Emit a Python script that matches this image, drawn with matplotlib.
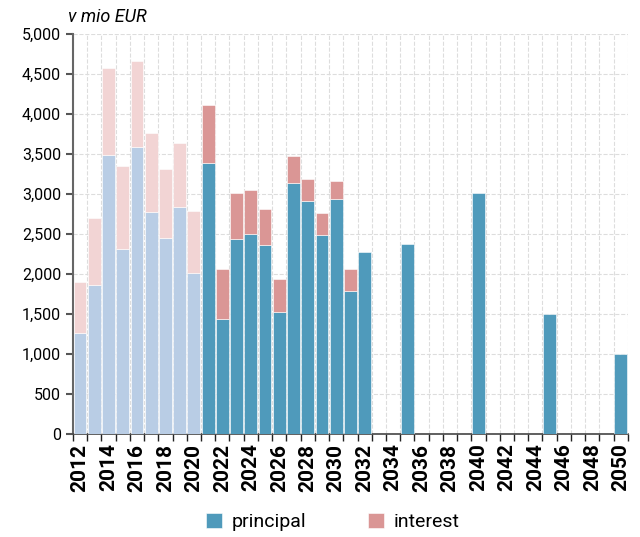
import matplotlib.pyplot as plt
import numpy as np

years = list(range(2012, 2051))
principal_past = {2012: 1260, 2013: 1860, 2014: 3490, 2015: 2310, 2016: 3590,
                  2017: 2775, 2018: 2450, 2019: 2835, 2020: 2010}
interest_past = {2012: 640, 2013: 840, 2014: 1085, 2015: 1040, 2016: 1075,
                 2017: 985, 2018: 860, 2019: 800, 2020: 775}
principal = {2021: 3385, 2022: 1435, 2023: 2435, 2024: 2500, 2025: 2355,
             2026: 1525, 2027: 3130, 2028: 2905, 2029: 2480, 2030: 2930,
             2031: 1780, 2032: 2270, 2035: 2370, 2040: 3010, 2045: 1500,
             2050: 1000}
interest = {2021: 720, 2022: 620, 2023: 575, 2024: 550, 2025: 450,
            2026: 410, 2027: 340, 2028: 285, 2029: 275, 2030: 235,
            2031: 280}

plt.rcParams['font.family'] = ['Roboto', 'DejaVu Sans']

fig = plt.figure(figsize=(6.4, 5.37), dpi=100)
ax = fig.add_axes([0.114, 0.192, 0.867, 0.745])

pos = {y: i for i, y in enumerate(years)}


def draw(vals, bottoms, color, label=None):
    xs = [pos[y] for y in vals]
    bt = [bottoms.get(y, 0) for y in vals] if bottoms else None
    ax.bar(xs, list(vals.values()), 0.9, bottom=bt, color=color,
           edgecolor='white', linewidth=0.4, zorder=3, label=label)


draw(principal_past, None, '#b9cde5')
draw(interest_past, principal_past, '#f2d4d4')
draw(principal, None, '#4f9abb', 'principal')
draw(interest, principal, '#da9695', 'interest')

x = np.arange(len(years))
ax.set_xlim(-0.5, len(years) - 0.5)
ax.set_ylim(0, 5000)
ax.set_yticks(range(0, 5001, 500))
ax.set_yticklabels([f'{v:,}' for v in range(0, 5001, 500)], fontsize=11.5)

ax.set_xticks(x[::2])
ax.set_xticklabels([str(y) for y in years[::2]], rotation=90, fontsize=15,
                   fontweight='bold')
ax.set_xticks(np.arange(len(years) + 1) - 0.5, minor=True)
ax.tick_params(axis='x', which='major', length=0, pad=7)
ax.tick_params(axis='x', which='minor', length=5, width=1, color='#222222')
ax.tick_params(axis='y', length=5, width=1.5, color='#555555')

ax.grid(True, which='minor', axis='x', linestyle='--', color='#dddddd', linewidth=0.8, zorder=0)
ax.grid(True, which='major', axis='y', linestyle='--', color='#dddddd', linewidth=0.8, zorder=0)
ax.grid(False, which='major', axis='x')

for s in ['top', 'right']:
    ax.spines[s].set_visible(False)
ax.spines['left'].set_color('#666666')
ax.spines['left'].set_linewidth(1.5)
ax.spines['bottom'].set_color('#444444')
ax.spines['bottom'].set_linewidth(1.2)

fig.text(0.106, 0.968, 'v mio EUR', fontsize=13, style='italic', va='center')

fig.legend(loc='lower center', bbox_to_anchor=(0.52, -0.022), ncol=2, frameon=False,
           fontsize=14, handlelength=0.8, handleheight=0.8, columnspacing=3.2,
           handletextpad=0.5)

fig.savefig('out.png', dpi=100)
